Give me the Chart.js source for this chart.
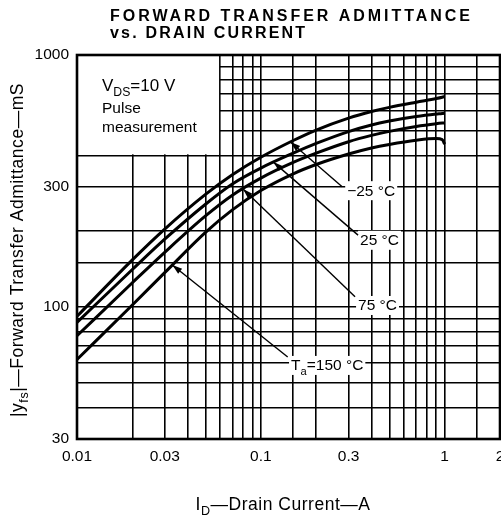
<!DOCTYPE html>
<html>
<head>
<meta charset="utf-8">
<script src="https://cdn.jsdelivr.net/npm/chart.js@4.4.1/dist/chart.umd.min.js"></script>
<style>
  html, body { margin: 0; padding: 0; background: #fff; }
</style>
</head>
<body>
<canvas id="chart" width="501" height="517"></canvas>
<script>
// drain current (A) and |yfs| (mS)
const currents = [0.01, 0.02, 0.03, 0.05, 0.07, 0.1, 0.15, 0.2, 0.3, 0.4, 0.5, 0.7, 0.9, 0.97, 1.0];
const yfsMinus25 = [92, 154, 204, 280, 335, 393, 458, 504, 562, 597, 620, 650, 672, 680, 684];
const yfs25 = [87, 141, 186, 256, 308, 356, 408, 446, 497, 528, 547, 570, 583, 586, 588];
const yfs75 = [77, 125, 165, 230, 278, 325, 375, 408, 453, 480, 498, 521, 534, 537, 538];
const yfs150 = [62, 102, 137, 198, 243, 290, 338, 368, 405, 428, 442, 459, 466, 462, 443];

const xTickLabels = [0.01, 0.03, 0.1, 0.3, 1, 2];
const yTickLabels = [30, 100, 300, 1000];

// curve labels: text parts, label anchor, leader tail and arrow tip (data units)
const curveLabels = [
    { parts: [{ t: '\u221225 \u00b0C' }], at: [0.295, 291], tail: [0.277, 300], tip: [0.145, 452] },
    { parts: [{ t: '25 \u00b0C' }], at: [0.3465, 185], tail: [0.338, 193], tip: [0.117, 376] },
    { parts: [{ t: '75 \u00b0C' }], at: [0.338, 102], tail: [0.3255, 110], tip: [0.08, 294] },
    { parts: [{ t: 'T' }, { t: 'a', sub: true }, { t: '=150 \u00b0C' }], at: [0.146, 59], tail: [0.14, 63.4], tip: [0.033, 147] },
];

const FONT = '"Liberation Sans", Arial, sans-serif';

function series(values) {
    return currents.map(function (c, i) {
        return { x: c, y: values[i] };
    });
}

function hasLabel(list, v) {
    return list.some(function (l) {
        return Math.abs(l - v) / l < 1e-6;
    });
}

function setFont(ctx, p, size) {
    ctx.font = (p.sub ? size * 0.72 : size) + 'px ' + FONT;
}

// natural width and glyph count of text with subscript pieces
function richWidth(ctx, parts, size) {
    let w = 0;
    let n = 0;
    ctx.letterSpacing = '0px';
    parts.forEach(function (p) {
        setFont(ctx, p, size);
        w += ctx.measureText(p.t).width;
        n += p.t.length;
    });
    return { w, n };
}

function drawRich(ctx, parts, x, y, size, spacing) {
    spacing = spacing || 0;
    parts.forEach(function (p) {
        setFont(ctx, p, size);
        ctx.letterSpacing = '0px';
        const w = ctx.measureText(p.t).width;
        ctx.letterSpacing = spacing + 'px';
        ctx.fillText(p.t, x, p.sub ? y + size * 0.3 : y);
        x += w + spacing * p.t.length;
    });
    ctx.letterSpacing = '0px';
}

// centred rich text stretched to a given width
function drawStretched(ctx, parts, cx, y, size, width) {
    const m = richWidth(ctx, parts, size);
    const spacing = Math.max(0, (width - m.w) / m.n);
    drawRich(ctx, parts, cx - (m.w + spacing * m.n) / 2, y, size, spacing);
}

function spacedText(ctx, text, x, y, width) {
    ctx.letterSpacing = '0px';
    const natural = ctx.measureText(text).width;
    ctx.letterSpacing = ((width - natural) / (text.length - 1)) + 'px';
    ctx.fillText(text, x, y);
    ctx.letterSpacing = '0px';
}

function arrow(ctx, x0, y0, x1, y1) {
    const a = Math.atan2(y1 - y0, x1 - x0);
    ctx.beginPath();
    ctx.moveTo(x0, y0);
    ctx.lineTo(x1, y1);
    ctx.stroke();
    ctx.beginPath();
    ctx.moveTo(x1, y1);
    ctx.lineTo(x1 - 10 * Math.cos(a) + 3.2 * Math.sin(a), y1 - 10 * Math.sin(a) - 3.2 * Math.cos(a));
    ctx.lineTo(x1 - 10 * Math.cos(a) - 3.2 * Math.sin(a), y1 - 10 * Math.sin(a) + 3.2 * Math.cos(a));
    ctx.closePath();
    ctx.fill();
}

const overlay = {
    id: 'overlay',
    beforeDatasetsDraw(chart) {
        const ctx = chart.ctx;
        const x = chart.scales.x;
        const y = chart.scales.y;
        ctx.save();
        ctx.fillStyle = '#fff';
        // condition box in the top-left corner
        const bx0 = x.getPixelForValue(0.01) + 1;
        const bx1 = x.getPixelForValue(0.06) - 1;
        const by0 = y.getPixelForValue(1000) + 1;
        const by1 = y.getPixelForValue(400) - 1;
        ctx.fillRect(bx0, by0, bx1 - bx0, by1 - by0);

        ctx.fillStyle = '#000';
        drawRich(ctx, [{ t: 'V' }, { t: 'DS', sub: true }, { t: '=10 V' }], bx0 + 24, by0 + 35, 17);
        ctx.font = '15.5px ' + FONT;
        ctx.fillText('Pulse', bx0 + 24, by0 + 57);
        ctx.fillText('measurement', bx0 + 24, by0 + 76);

        // white patches behind the curve labels
        curveLabels.forEach(function (l) {
            const px = x.getPixelForValue(l.at[0]);
            const py = y.getPixelForValue(l.at[1]);
            const m = richWidth(ctx, l.parts, 15.5);
            ctx.fillStyle = '#fff';
            ctx.fillRect(px - 2, py - 9, m.w + 4, 19);
        });
        ctx.restore();
    },
    afterDatasetsDraw(chart) {
        const ctx = chart.ctx;
        const x = chart.scales.x;
        const y = chart.scales.y;
        ctx.save();
        ctx.strokeStyle = '#000';
        ctx.fillStyle = '#000';
        ctx.lineWidth = 1.4;
        curveLabels.forEach(function (l) {
            arrow(ctx,
                x.getPixelForValue(l.tail[0]), y.getPixelForValue(l.tail[1]),
                x.getPixelForValue(l.tip[0]), y.getPixelForValue(l.tip[1]));
            drawRich(ctx, l.parts, x.getPixelForValue(l.at[0]), y.getPixelForValue(l.at[1]) + 5.5, 15.5);
        });
        ctx.restore();
    },
    afterDraw(chart) {
        const ctx = chart.ctx;
        const a = chart.chartArea;
        ctx.save();
        ctx.strokeStyle = '#000';
        ctx.lineWidth = 2.6;
        ctx.strokeRect(a.left, a.top, a.right - a.left, a.bottom - a.top);

        ctx.fillStyle = '#000';
        ctx.font = 'bold 16px ' + FONT;
        spacedText(ctx, 'FORWARD TRANSFER ADMITTANCE', 110, 21, 360);
        spacedText(ctx, 'vs. DRAIN CURRENT', 110, 38, 195);

        // x axis title
        drawStretched(ctx, [{ t: 'I' }, { t: 'D', sub: true }, { t: '\u2014Drain Current\u2014A' }], 283, 510, 17.5, 175);

        // y axis title
        ctx.translate(17, 250);
        ctx.rotate(-Math.PI / 2);
        drawStretched(ctx, [{ t: '|y' }, { t: 'fs', sub: true }, { t: '|\u2014Forward Transfer Admittance\u2014mS' }], 0, 6, 17.5, 334);
        ctx.restore();
    },
};

function curve(label, values) {
    return {
        label,
        data: series(values),
        borderColor: '#000',
        borderWidth: 3,
        pointRadius: 0,
        cubicInterpolationMode: 'monotone',
        fill: false,
    };
}

new Chart(document.getElementById('chart'), {
    type: 'line',
    data: {
        datasets: [
            curve('-25 °C', yfsMinus25),
            curve('25 °C', yfs25),
            curve('75 °C', yfs75),
            curve('150 °C', yfs150),
        ],
    },
    options: {
        responsive: false,
        animation: false,
        devicePixelRatio: 1,
        layout: { padding: { top: 55, right: 1, left: 0, bottom: 0 } },
        plugins: {
            legend: { display: false },
            tooltip: { enabled: false },
        },
        scales: {
            x: {
                type: 'logarithmic',
                min: 0.01,
                max: 2,
                afterFit(scale) {
                    scale.height = 78;
                    scale.paddingLeft = 0;
                    scale.paddingRight = 0;
                },
                grid: { color: '#000', lineWidth: 1.6, drawTicks: false },
                border: { display: false },
                ticks: {
                    autoSkip: false,
                    maxRotation: 0,
                    padding: 8,
                    color: '#000',
                    font: { family: FONT, size: 15.5 },
                    callback: function (v) {
                        return hasLabel(xTickLabels, v) ? String(+v.toPrecision(3)) : '';
                    },
                },
            },
            y: {
                type: 'logarithmic',
                min: 30,
                max: 1000,
                afterFit(scale) {
                    scale.width = 77;
                },
                grid: { color: '#000', lineWidth: 1.6, drawTicks: false },
                border: { display: false },
                ticks: {
                    autoSkip: false,
                    padding: 8,
                    color: '#000',
                    font: { family: FONT, size: 15.5 },
                    callback: function (v) {
                        return hasLabel(yTickLabels, v) ? String(v) : '';
                    },
                },
            },
        },
    },
    plugins: [overlay],
});
</script>
</body>
</html>
